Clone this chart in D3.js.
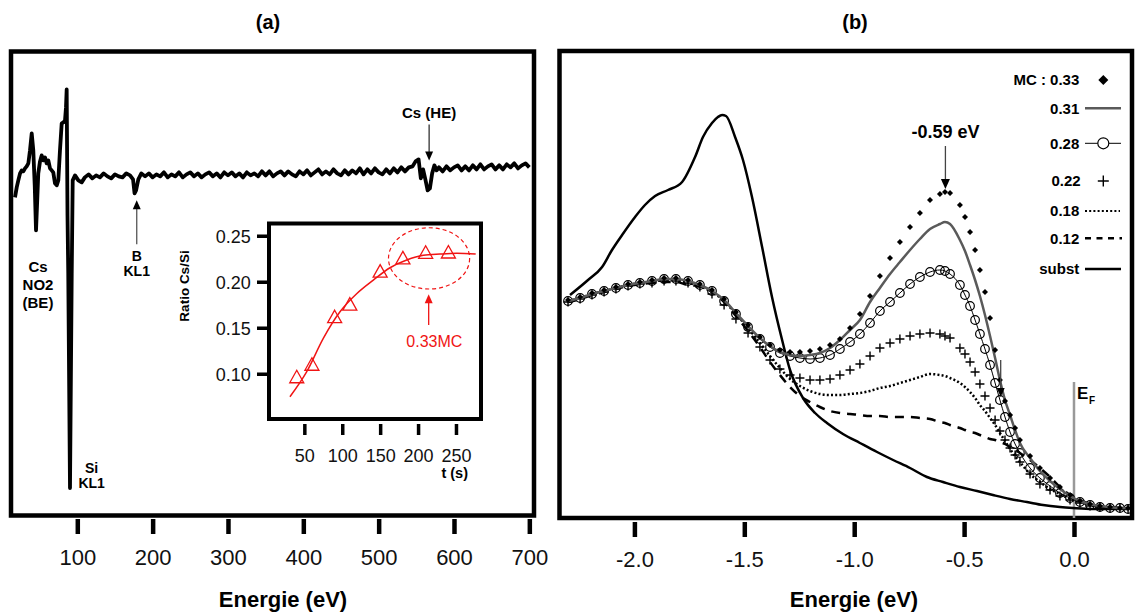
<!DOCTYPE html>
<html><head><meta charset="utf-8">
<script src="https://cdn.jsdelivr.net/npm/d3@7"></script>
<style>
body{margin:0;background:#fff;}
svg{display:block;font-family:"Liberation Sans",Arial,sans-serif;}
</style>
</head><body>
<svg id="chart" width="1135" height="615"></svg>
<script>
// ---------------- DATA ----------------
// Panel (a): Auger spectrum (energy eV, arbitrary intensity)
const specEnergy = [17.3,19.6,21.7,24.0,26.2,28.4,30.6,32.8,35.0,37.2,39.5,41.6,43.5,45.2,46.8,48.2,50.5,52.7,54.9,57.1,
  59.4,61.5,63.8,66.0,68.1,70.4,72.7,74.8,77.0,79.3,81.5,83.7,85.0,85.9,87.0,88.0,90.3,92.6,93.9,97.0,101.4,105.8,
  110,115,120,125,130,135,140,145,150,155,160,165,170,174,176,178,181,
  185,190,195,200,205,210,215,220,225,230,235,240,245,250,255,260,265,270,275,280,
  285,290,295,300,305,310,315,320,325,330,335,340,345,350,355,360,365,370,375,380,
  385,390,395,400,405,410,415,420,425,430,435,440,445,450,455,460,465,470,475,480,
  485,490,495,500,505,510,515,520,525,530,535,540,545,
  549,553,556,559,562,565,568,571,574,577,
  580,585,590,595,600,605,610,615,620,625,630,635,640,645,650,655,660,665,670,675,680,685,690,695,700];
const specIntensity = [-22,-12,-5,2,5,4,7,9,12,25,42,25,-10,-55,-25,2,14,20,15,18,
  12,15,7,5,3,-8,-10,-5,25,52,53,55,68,86,-40,-98,-313,-98,-5,0,-5,-7,
  -2,1,-3,0,-2,2,-1,-3,1,-1,-2,2,0,-4,-18,-15,-4,
  2,-1,2,-2,1,-1,3,-2,1,-1,3,-2,1,3,-1,2,-2,1,3,-1,
  2,-2,3,0,3,-1,2,-2,3,0,2,-1,4,0,4,-1,2,4,0,4,
  1,-1,4,1,5,0,3,6,1,4,1,6,2,0,5,1,5,2,7,1,
  6,2,7,3,1,6,2,7,3,8,4,8,9,
  14,16,-3,6,-4,-15,-13,2,10,5,
  8,4,9,5,8,10,5,9,5,10,6,11,6,9,11,6,10,6,11,8,12,7,10,12,8];
const axisATicks = [100,200,300,400,500,600,700];

// Inset: Cs/Si ratio vs time
const insetTime = [40,60,90,110,150,180,210,240];
const insetRatio = [0.0967,0.1103,0.162,0.1756,0.2116,0.226,0.232,0.2323];
const fitTime = [31,53,75,97,119,141,163,185,207,229,251,276];
const fitRatio = [0.075,0.102,0.1385,0.1674,0.187,0.2018,0.2152,0.2236,0.2287,0.2301,0.2309,0.2301];
const insetXTicks = [50,100,150,200,250];
const insetYTicks = [0.10,0.15,0.20,0.25];

// Panel (b): UPS spectra (energy eV relative to EF, arbitrary intensity)
const energyB = [-2.302,-2.247,-2.193,-2.138,-2.084,-2.029,-1.975,-1.920,-1.865,-1.811,-1.756,-1.702,-1.647,-1.592,-1.538,-1.483,-1.429,
  -1.383,-1.338,-1.292,-1.247,-1.201,-1.156,-1.110,-1.065,-1.019,-0.974,-0.928,-0.883,-0.837,-0.792,-0.746,-0.701,-0.655,-0.610,
  -0.587,-0.564,
  -0.519,-0.496,-0.473,-0.450,-0.428,-0.405,-0.382,-0.359,-0.337,-0.314,-0.291,-0.268,-0.246,
  -0.200,-0.155,-0.109,-0.064,-0.018,0.027,0.073,0.118,0.164,0.209,0.246];
const mc033 = [218,221,225,228,231,234,236,238,240,240,238,234,228,219,206,193,181,
  173,168,166,166,167,169,173,179,190,204,222,242,260,276,291,305,318,324,
  326,325,
  313,301,286,268,248,226,200,168,138,117,103,90,78,
  62,50,40,31,23,17,14,12,11,10,10];
const mc031 = [217,220,224,227,230,233,235,237,239,239,237,233,227,218,205,192,180,
  172,166,163,162,163,165,170,178,188,198,216,230,244,256,268,279,289,294,
  296,294,
  278,267,253,238,222,203,182,160,138,118,103,88,75,
  60,47,37,29,22,17,14,12,11,10,10];
const mc028 = [217,220,224,227,230,233,235,237,239,239,237,233,227,217,204,191,179,
  171,165,162,160,159,160,163,169,176,184,195,207,216,225,234,241,246,248,
  247,244,
  233,223,212,198,184,169,153,135,118,101,86,74,65,
  50,40,32,25,20,16,13,11,10,10,9];
const mc022 = [216,219,223,226,229,232,234,235,237,237,235,231,224,213,199,185,171,
  158,149,143,140,138,138,139,143,148,154,162,170,175,179,182,184,185,184,
  182,180,
  170,164,156,146,134,122,110,98,87,78,70,63,56,
  44,34,28,22,18,15,12,11,10,10,9];
const mc018 = [217,220,224,227,230,233,235,236,238,238,235,232,226,217,204,190,175,
  162,150,139,132,127,124,123,123,124,125,127,130,132,135,138,141,144,143,
  142,140,
  135,131,126,120,113,107,100,93,85,77,69,62,56,
  44,36,29,24,19,16,13,11,10,10,9];
const mc012 = [216,219,223,226,229,232,234,235,236,236,233,232,226,216,202,187,171,
  156,143,131,122,116,111,107,105,104,103,102,102,101,101,101,100,99,96,
  95,93,
  90,88,86,85,83,81,79,78,76,74,71,68,65,
  58,50,41,31,23,18,14,12,11,10,9];
const substEnergy = [-2.293,-2.211,-2.147,-2.102,-2.056,-1.997,-1.952,-1.906,-1.847,-1.783,
  -1.724,-1.688,-1.647,-1.620,-1.601,-1.583,-1.542,-1.506,-1.465,-1.419,
  -1.374,-1.328,-1.292,-1.233,-1.178,-1.124,-1.051,-0.974,-0.896,-0.823,
  -0.746,-0.669,-0.596,-0.519,-0.441,-0.369,-0.291,-0.214,-0.141,-0.064,
  -0.005,0.086,0.164,0.241];
const substIntensity = [223,238,251,268,283,301,313,322,328,336,
  361,381,395,401,403,402,381,358,321,271,
  221,178,148,120,105,95,84,75,66,58,
  50,41,36,31,27,23,19,16,13,11,
  10,9,9,9];
const axisBTicks = [-2.0,-1.5,-1.0,-0.5,0.0];
const legendLabels = ["MC : 0.33","0.31","0.28","0.22","0.18","0.12","subst"];
const peakLabel = "-0.59 eV";
const peakEnergy = -0.585;

// ---------------- DRAW ----------------
const svg = d3.select("#chart");
const FONT = "Liberation Sans, Arial, sans-serif";

function arrow(g, x, y1, y2, lineColor, headColor, hw, hl) {
  const dir = y2 > y1 ? 1 : -1;
  g.append("line").attr("x1", x).attr("x2", x).attr("y1", y1).attr("y2", y2 - dir * hl * 0.8)
    .attr("stroke", lineColor).attr("stroke-width", 1.3);
  g.append("path").attr("d", `M${x},${y2}L${x - hw},${y2 - dir * hl}L${x + hw},${y2 - dir * hl}Z`)
    .attr("fill", headColor);
}
function boldText(g, x, y, txt, size, anchor, color) {
  return g.append("text").attr("x", x).attr("y", y).attr("text-anchor", anchor || "middle")
    .attr("font-size", size).attr("font-weight", "bold").attr("font-family", FONT)
    .attr("fill", color || "#000").text(txt);
}

// ===== Panel (a) =====
const xA = d3.scaleLinear().domain([12.0, 706.2]).range([11, 534]);
const yA = d3.scaleLinear().domain([-340.5, 124]).range([515.5, 51.5]);
const gA = svg.append("g");

gA.append("rect").attr("x", 11).attr("y", 51.5).attr("width", 523).attr("height", 464)
  .attr("fill", "none").attr("stroke", "#000").attr("stroke-width", 4.5);

const specData = specEnergy.map((e, i) => [e, specIntensity[i]]);
gA.append("path").datum(specData)
  .attr("d", d3.line().x(d => xA(d[0])).y(d => yA(d[1])))
  .attr("fill", "none").attr("stroke", "#000").attr("stroke-width", 3.8)
  .attr("stroke-linejoin", "round");

const axA = gA.append("g").attr("transform", "translate(0,519)")
  .call(d3.axisBottom(xA).tickValues(axisATicks).tickSize(15).tickFormat(d3.format("d")));
axA.select(".domain").remove();
axA.selectAll(".tick line").attr("stroke", "#000").attr("stroke-width", 4.5);
axA.selectAll(".tick text").attr("y", 46).attr("dy", 0).attr("font-size", 22)
  .attr("font-family", FONT).attr("fill", "#111");

svg.append("text").attr("x", 283).attr("y", 607).attr("text-anchor", "middle")
  .attr("font-size", 22).attr("font-weight", "bold").attr("font-family", FONT).text("Energie (eV)");
svg.append("text").attr("x", 268).attr("y", 29).attr("text-anchor", "middle")
  .attr("font-size", 20).attr("font-weight", "bold").attr("font-family", FONT).text("(a)");

// annotations panel (a)
boldText(gA, xA(47.8), yA(-97), "Cs", 15);
boldText(gA, xA(47.8), yA(-115), "NO2", 15);
boldText(gA, xA(47.8), yA(-133), "(BE)", 15);
boldText(gA, xA(119), yA(-298), "Si", 14);
boldText(gA, xA(119), yA(-313), "KL1", 14);
boldText(gA, xA(178.9), yA(-86), "B", 14);
boldText(gA, xA(178.9), yA(-101), "KL1", 14);
arrow(gA, xA(178.9), yA(-69), yA(-25), "#555", "#000", 4, 9);
boldText(gA, xA(567), yA(57), "Cs (HE)", 15);
arrow(gA, xA(567), yA(51), yA(15), "#333", "#000", 4, 9);

// ===== Inset =====
const xI = d3.scaleLinear().domain([3.4, 283]).range([269, 481]);
const yI = d3.scaleLinear().domain([0.0508, 0.2633]).range([419, 223.5]);
const gI = svg.append("g");
gI.append("rect").attr("x", 269).attr("y", 223.5).attr("width", 212).attr("height", 195.5)
  .attr("fill", "none").attr("stroke", "#000").attr("stroke-width", 4);

const axIx = gI.append("g").attr("transform", "translate(0,424)")
  .call(d3.axisBottom(xI).tickValues(insetXTicks).tickSize(11).tickFormat(d3.format("d")));
axIx.select(".domain").remove();
axIx.selectAll(".tick line").attr("stroke", "#000").attr("stroke-width", 3.5);
axIx.selectAll(".tick text").attr("y", 37.5).attr("dy", 0).attr("font-size", 18)
  .attr("font-family", FONT).attr("fill", "#111");

const axIy = gI.append("g").attr("transform", "translate(269,0)")
  .call(d3.axisLeft(yI).tickValues(insetYTicks).tickSize(12).tickFormat(d3.format(".2f")));
axIy.select(".domain").remove();
axIy.selectAll(".tick line").attr("stroke", "#000").attr("stroke-width", 3.5);
axIy.selectAll(".tick text").attr("x", -18.3).attr("dy", "0.36em").attr("font-size", 18)
  .attr("font-family", FONT).attr("fill", "#111");

boldText(gI, 468, 478, "t (s)", 14.5, "end");
gI.append("text").attr("transform", "translate(" + 189 + "," + 286 + ") rotate(-90)")
  .attr("text-anchor", "middle").attr("font-size", 13.5).attr("font-weight", "bold")
  .attr("font-family", FONT).text("Ratio Cs/Si");

const RED = "#f01414";
const fitData = fitTime.map((t, i) => [t, fitRatio[i]]);
gI.append("path").datum(fitData)
  .attr("d", d3.line().x(d => xI(d[0])).y(d => yI(d[1])).curve(d3.curveMonotoneX))
  .attr("fill", "none").attr("stroke", RED).attr("stroke-width", 1.5);
gI.selectAll("path.tri").data(insetTime.map((t, i) => [t, insetRatio[i]])).join("path")
  .attr("class", "tri")
  .attr("transform", d => `translate(${xI(d[0])},${yI(d[1])})`)
  .attr("d", "M0,-6.5L7,6L-7,6Z")
  .attr("fill", "none").attr("stroke", RED).attr("stroke-width", 1.3);

const ellT = [161, 268], ellR = [0.1921, 0.2587];
gI.append("ellipse")
  .attr("cx", (xI(ellT[0]) + xI(ellT[1])) / 2).attr("cy", (yI(ellR[0]) + yI(ellR[1])) / 2)
  .attr("rx", (xI(ellT[1]) - xI(ellT[0])) / 2).attr("ry", (yI(ellR[0]) - yI(ellR[1])) / 2)
  .attr("fill", "none").attr("stroke", RED).attr("stroke-width", 1.2).attr("stroke-dasharray", "4,3");
arrow(gI, xI(214), yI(0.153), yI(0.1865), RED, RED, 4, 9);
gI.append("text").attr("x", xI(221.5)).attr("y", 347).attr("text-anchor", "middle")
  .attr("font-size", 16).attr("font-family", FONT).attr("fill", RED).text("0.33MC");

// ===== Panel (b) =====
const xB = d3.scaleLinear().domain([-2.3408, 0.2639]).range([559.5, 1132]);
const yB = d3.scaleLinear().domain([0, 467]).range([518, 51]);
const gB = svg.append("g");

gB.append("rect").attr("x", 559.5).attr("y", 51).attr("width", 572.5).attr("height", 467)
  .attr("fill", "none").attr("stroke", "#000").attr("stroke-width", 4.5);

const axB = gB.append("g").attr("transform", "translate(0,522)")
  .call(d3.axisBottom(xB).tickValues(axisBTicks).tickSize(15).tickFormat(d3.format(".1f")));
axB.select(".domain").remove();
axB.selectAll(".tick line").attr("stroke", "#000").attr("stroke-width", 4.5);
axB.selectAll(".tick text").attr("y", 45).attr("dy", 0).attr("font-size", 22)
  .attr("font-family", FONT).attr("fill", "#111")
  .text(d => d3.format(".1f")(d).replace("−", "-"));

svg.append("text").attr("x", 854).attr("y", 607).attr("text-anchor", "middle")
  .attr("font-size", 22).attr("font-weight", "bold").attr("font-family", FONT).text("Energie (eV)");
svg.append("text").attr("x", 855).attr("y", 29).attr("text-anchor", "middle")
  .attr("font-size", 20).attr("font-weight", "bold").attr("font-family", FONT).text("(b)");

const lineB = d3.line().x(d => xB(d[0])).y(d => yB(d[1])).curve(d3.curveMonotoneX);
const ser = arr => energyB.map((e, i) => [e, arr[i]]);

// E_F line
gB.append("line").attr("x1", xB(0)).attr("x2", xB(0)).attr("y1", yB(136)).attr("y2", yB(0))
  .attr("stroke", "#999").attr("stroke-width", 2.5);
boldText(gB, xB(0) + 3, 398.5, "E", 17, "start");
boldText(gB, xB(0) + 15, 403.5, "F", 10, "start");

// substrate
gB.append("path").datum(substEnergy.map((e, i) => [e, substIntensity[i]])).attr("d", lineB)
  .attr("fill", "none").attr("stroke", "#000").attr("stroke-width", 2.5);
// 0.12 dashed
gB.append("path").datum(ser(mc012)).attr("d", lineB)
  .attr("fill", "none").attr("stroke", "#000").attr("stroke-width", 2.5).attr("stroke-dasharray", "9,7");
// 0.18 dotted
gB.append("path").datum(ser(mc018)).attr("d", lineB)
  .attr("fill", "none").attr("stroke", "#000").attr("stroke-width", 2.5).attr("stroke-dasharray", "2,2.2");
// 0.22 plus
gB.selectAll("path.plus").data(ser(mc022)).join("path").attr("class", "plus")
  .attr("transform", d => `translate(${xB(d[0])},${yB(d[1])})`)
  .attr("d", "M-4.5,0H4.5M0,-4.5V4.5").attr("stroke", "#000").attr("stroke-width", 1.4).attr("fill", "none");
// 0.28 circles + line
gB.append("path").datum(ser(mc028)).attr("d", lineB)
  .attr("fill", "none").attr("stroke", "#000").attr("stroke-width", 1);
gB.selectAll("circle.c28").data(ser(mc028)).join("circle").attr("class", "c28")
  .attr("cx", d => xB(d[0])).attr("cy", d => yB(d[1])).attr("r", 4.3)
  .attr("fill", "none").attr("stroke", "#000").attr("stroke-width", 1.2);
// 0.31 gray line
gB.append("path").datum(ser(mc031)).attr("d", lineB)
  .attr("fill", "none").attr("stroke", "#5a5a5a").attr("stroke-width", 2.5);
// 0.33 diamonds
gB.selectAll("path.dia").data(ser(mc033)).join("path").attr("class", "dia")
  .attr("transform", d => `translate(${xB(d[0])},${yB(d[1])})`)
  .attr("d", "M0,-3L3,0L0,3L-3,0Z").attr("fill", "#000");

// annotations panel (b)
boldText(gB, xB(peakEnergy), 138, peakLabel, 18);
arrow(gB, xB(peakEnergy), yB(372), yB(329), "#444", "#000", 4.5, 10);
arrow(gB, xB(-0.3335), yB(158), yB(121), "#444", "#000", 4, 9);

// legend
const legY = [80, 108.3, 143.3, 181, 211, 238.3, 269];
const legG = gB.append("g");
legendLabels.forEach((lab, i) => {
  boldText(legG, i === 3 ? 1080.7 : 1079.3, legY[i] + 5.2, lab, 15, "end");
});
legG.append("path").attr("transform", `translate(1103.3,${legY[0]})`).attr("d", "M0,-5L5,0L0,5L-5,0Z").attr("fill", "#000");
legG.append("line").attr("x1", 1085).attr("x2", 1121).attr("y1", legY[1]).attr("y2", legY[1])
  .attr("stroke", "#5a5a5a").attr("stroke-width", 2.5);
legG.append("line").attr("x1", 1085).attr("x2", 1121).attr("y1", legY[2]).attr("y2", legY[2])
  .attr("stroke", "#000").attr("stroke-width", 1);
legG.append("circle").attr("cx", 1103.3).attr("cy", legY[2]).attr("r", 5.5)
  .attr("fill", "#fff").attr("stroke", "#000").attr("stroke-width", 1.2);
legG.append("path").attr("transform", `translate(1103.3,${legY[3]})`).attr("d", "M-5.5,0H5.5M0,-5.5V5.5")
  .attr("stroke", "#000").attr("stroke-width", 1.4);
legG.append("line").attr("x1", 1085).attr("x2", 1120).attr("y1", legY[4]).attr("y2", legY[4])
  .attr("stroke", "#000").attr("stroke-width", 2.2).attr("stroke-dasharray", "2,2.2");
legG.append("line").attr("x1", 1085).attr("x2", 1122).attr("y1", legY[5]).attr("y2", legY[5])
  .attr("stroke", "#000").attr("stroke-width", 2.5).attr("stroke-dasharray", "6,5.5");
legG.append("line").attr("x1", 1085).attr("x2", 1121).attr("y1", legY[6]).attr("y2", legY[6])
  .attr("stroke", "#000").attr("stroke-width", 2.5);
</script>
</body></html>
